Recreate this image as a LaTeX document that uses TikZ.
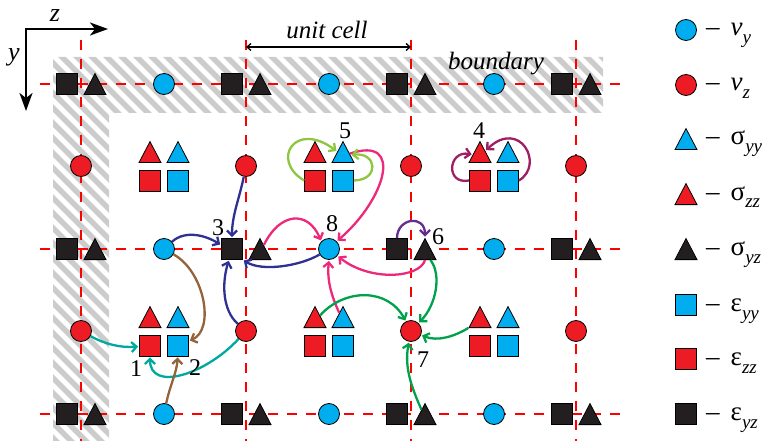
\documentclass[tikz,border=0pt]{standalone}
\usepackage{fontspec}
\setmainfont{Liberation Serif}
\newfontfamily\timesface{Liberation Serif}
\usetikzlibrary{shapes.geometric,arrows.meta}

\definecolor{cvy}{HTML}{00AEEF}
\definecolor{cvz}{HTML}{ED1C24}
\definecolor{cink}{HTML}{231F20}
\definecolor{cnavy}{HTML}{2E3192}
\definecolor{crose}{HTML}{EC297B}
\definecolor{clime}{HTML}{8DC63F}
\definecolor{cforest}{HTML}{00A14B}
\definecolor{cteal}{HTML}{00A99D}
\definecolor{cbrown}{HTML}{94633A}
\definecolor{cpurple}{HTML}{662D91}
\definecolor{cplum}{HTML}{9E1F63}

\newcommand{\lowsub}[1]{\raisebox{-8pt}{\fontsize{19}{19}\timesface\itshape #1}}

\tikzset{
  gridline/.style={red, line width=1.6pt, dash pattern=on 10pt off 9pt},
  stripe/.style={line width=5.5pt, color=black!20},
  blob/.style={circle, draw=black, line width=0.8pt, minimum size=21pt, inner sep=0pt},
  box/.style={rectangle, draw=black, line width=0.8pt, minimum size=21pt, inner sep=0pt},
  tri/.style={isosceles triangle, isosceles triangle stretches, shape border rotate=90,
              draw=black, line width=0.8pt, minimum width=22pt, minimum height=21pt,
              inner sep=0pt, anchor=lower side},
  link/.style={line width=2.3pt, -{Straight Barb[length=5pt,width=10pt]}, shorten >=1pt},
  num/.style={font=\fontsize{24}{24}\timesface, inner sep=0pt},
  slanted/.style={font=\fontsize{25}{25}\timesface\itshape, inner sep=0pt},
  legtext/.style={font=\fontsize{27}{27}\timesface, inner sep=0pt, anchor=base west},
  axis/.style={line width=2.2pt, line join=miter,
               {Stealth[length=18pt,width=13pt,inset=5pt]}-{Stealth[length=18pt,width=13pt,inset=5pt]}},
}

\begin{document}
\begin{tikzpicture}[x=1pt, y=-1pt]
\useasboundingbox (0,0) rectangle (763,441);

% hatched boundary band (L-shaped)
\begin{scope}
  \clip (53,57) -- (603,57) -- (603,113) -- (109,113) -- (109,441) -- (53,441) -- cycle;
  \foreach \k in {-420,-405,...,630}
    \draw[stripe] (\k,40) -- ++(420,420);
\end{scope}

% staggered grid lines
\foreach \yy in {84,249,414}
  \draw[gridline] (40,\yy) -- (620,\yy);
\foreach \xx in {81,246,411,576}
  \draw[gridline] (\xx,40) -- (\xx,441);

% eps_yz and sigma_yz at the grid crossings
\foreach \i in {0,...,3} {
  \foreach \j in {0,1,2} {
    \node[box, fill=cink] (ksq\i\j) at ({81+165*\i-14},{84+165*\j}) {};
    \node[tri, fill=cink] (ktr\i\j) at ({81+165*\i+14},{84+165*\j+11}) {};
  }
}
% v_y between crossings on horizontal lines
\foreach \i in {0,1,2} {
  \foreach \j in {0,1,2} {
    \node[blob, fill=cvy] (vy\i\j) at ({164+165*\i},{84+165*\j}) {};
  }
}
% v_z on vertical lines
\foreach \i in {0,...,3} {
  \foreach \j in {0,1} {
    \node[blob, fill=cvz] (vz\i\j) at ({81+165*\i},{166+165*\j}) {};
  }
}
% normal stresses and strains at cell centres
\foreach \i in {0,1,2} {
  \foreach \j in {0,1} {
    \node[tri, fill=cvz] (rtri\i\j) at ({164+165*\i-14},{163+165*\j}) {};
    \node[tri, fill=cvy] (btri\i\j) at ({164+165*\i+14},{163+165*\j}) {};
    \node[box, fill=cvz] (rsq\i\j)  at ({164+165*\i-14},{180.5+165*\j}) {};
    \node[box, fill=cvy] (bsq\i\j)  at ({164+165*\i+14},{180.5+165*\j}) {};
  }
}

% axes
\coordinate (ax0) at (26,29);
\coordinate (axz) at (108,29);
\coordinate (axy) at (26,111);
\draw[axis] (axz) -- (ax0) -- (axy);
\node[inner sep=0pt, font=\fontsize{26}{26}\timesface\itshape] (zlab) at (55,16) {z};
\node[inner sep=0pt, font=\fontsize{26}{26}\timesface\itshape] (ylab) at (14,57) {y};

% unit cell span
\coordinate (ucl) at (246,47);
\coordinate (ucr) at (411,47);
\draw[line width=1.3pt, {Straight Barb[length=4pt,width=7pt]}-{Straight Barb[length=4pt,width=7pt]}] (ucl) -- (ucr);
\node[slanted] (uclab) at (327,30) {unit cell};
\node[slanted] (bdlab) at (496,64) {boundary};

% dependencies: navy
\draw[link, cnavy] (vz10) .. controls (239,200) and (232,215) .. (ksq11.north);
\draw[link, cnavy] (vy01) .. controls (185,230) and (205,235) .. ([yshift=4pt]ksq11.west);
\draw[link, cnavy] (vy11) .. controls (300,266) and (262,272) .. (ksq11.south east);
\draw[link, cnavy] (vz11) .. controls (222,310) and (222,282) .. ([xshift=-3pt]ksq11.south);
% pink
\draw[link, crose] (ktr11) .. controls (280,212) and (308,210) .. (vy11.north west);
\draw[link, crose] (btri10) .. controls (405,135) and (385,200) .. (vy11.north east);
\draw[link, crose] (ktr21.lower side) .. controls (420,278) and (370,282) .. (vy11);
\draw[link, crose] (btri11) .. controls (331,295) and (327,280) .. (vy11.south);
% light green
\draw[link, clime] (rsq10.west) .. controls (270,160) and (295,120) .. (btri10);
\draw[link, clime] (bsq10.east) .. controls (380,180) and (377,152) .. (btri10);
% plum
\draw[link, cplum] (rsq20.west) .. controls (445,185) and (448,150) .. (rtri20);
\draw[link, cplum] (bsq20.east) .. controls (545,165) and (520,118) .. (rtri20);
% purple
\draw[link, cpurple] (ksq21.north) .. controls (397,218) and (425,214) .. (ktr21.apex);
% dark green
\draw[link, cforest] (rtri11) .. controls (345,288) and (388,288) .. (vz21);
\draw[link, cforest] (ktr21) .. controls (442,275) and (436,305) .. (vz21);
\draw[link, cforest] (rtri21.left corner) .. controls (455,336) and (438,342) .. (vz21);
\draw[link, cforest] (ktr22) .. controls (412,388) and (404,368) .. (vz21);
% teal
\draw[link, cteal] (vz01) .. controls (105,344) and (120,348) .. (rsq01);
\draw[link, cteal] (vz11) .. controls (205,375) and (150,392) .. (rsq01);
% brown
\draw[link, cbrown] (vy01) .. controls (205,272) and (215,330) .. (bsq01);
\draw[link, cbrown] (vy02) .. controls (170,385) and (177,372) .. (bsq01);

% step numbers
\node[num] (n1) at (136,369) {1};
\node[num] (n2) at (195,368) {2};
\node[num] (n3) at (218,228) {3};
\node[num] (n4) at (479,131) {4};
\node[num] (n5) at (345,131) {5};
\node[num] (n6) at (438,237) {6};
\node[num] (n7) at (423,360) {7};
\node[num] (n8) at (332,224) {8};

% legend
\node[blob, fill=cvy] (g1) at (686,30) {};
\node[blob, fill=cvz] (g2) at (686,85) {};
\node[tri, fill=cvy] (g3) at (686,150) {};
\node[tri, fill=cvz] (g4) at (686,205) {};
\node[tri, fill=cink] (g5) at (686,260) {};
\node[box, fill=cvy] (g6) at (686,305) {};
\node[box, fill=cvz] (g7) at (686,359) {};
\node[box, fill=cink] (g8) at (686,414) {};
\node[legtext] (t1) at (706,36) {–\hspace{11pt}\textit{v}\lowsub{y}};
\node[legtext] (t2) at (706,91) {–\hspace{11pt}\textit{v}\lowsub{z}};
\node[legtext] (t3) at (706,145) {–\hspace{11pt}σ\lowsub{yy}};
\node[legtext] (t4) at (706,200) {–\hspace{11pt}σ\lowsub{zz}};
\node[legtext] (t5) at (706,255) {–\hspace{11pt}σ\lowsub{yz}};
\node[legtext] (t6) at (706,311) {–\hspace{11pt}ε\lowsub{yy}};
\node[legtext] (t7) at (706,365) {–\hspace{11pt}ε\lowsub{zz}};
\node[legtext] (t8) at (706,420) {–\hspace{11pt}ε\lowsub{yz}};
\end{tikzpicture}
\end{document}
